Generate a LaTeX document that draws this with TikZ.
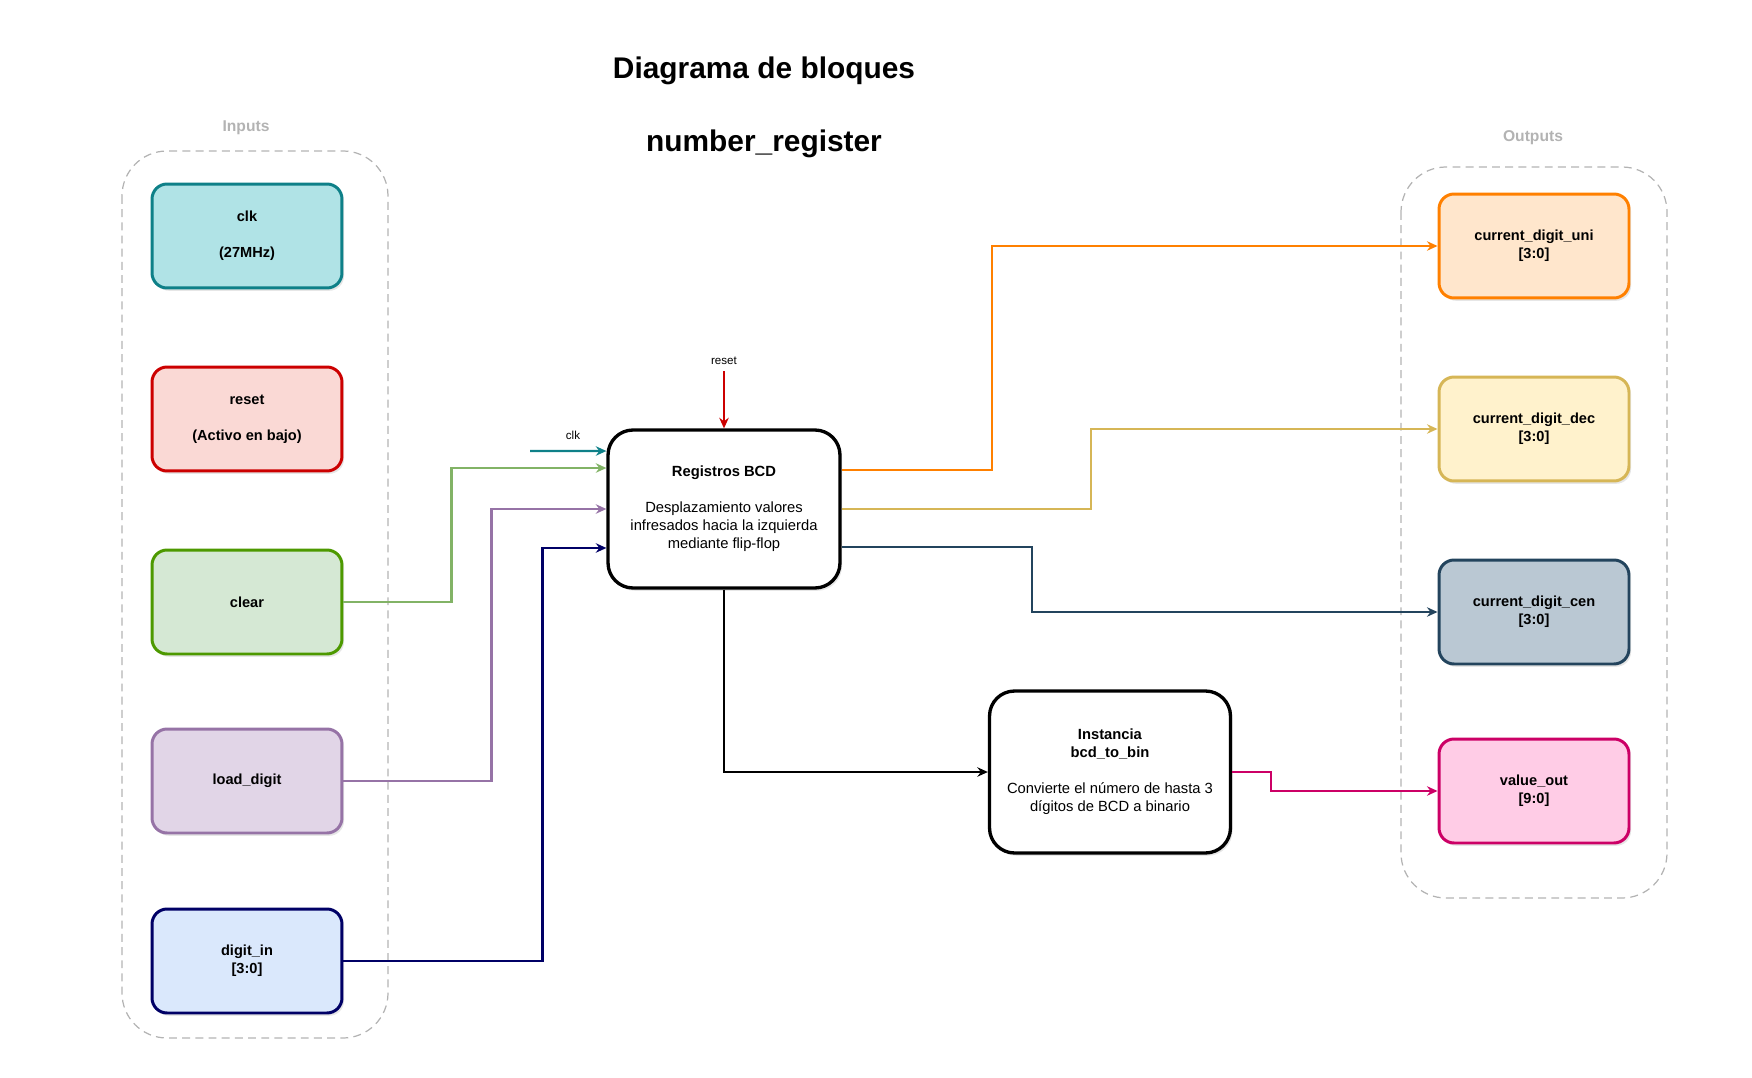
\documentclass[tikz,border=0pt]{standalone}
\usepackage{fontspec}
\setmainfont{Liberation Sans}
\usetikzlibrary{arrows.meta,positioning,shadows}

\definecolor{grpgray}{HTML}{B3B3B3}
\definecolor{clkfill}{HTML}{B0E3E6}
\definecolor{clkline}{HTML}{0E8088}
\definecolor{rstfill}{HTML}{FAD9D5}
\definecolor{rstline}{HTML}{CC0000}
\definecolor{clrfill}{HTML}{D5E8D4}
\definecolor{clrline}{HTML}{4D9900}
\definecolor{clrwire}{HTML}{82B366}
\definecolor{ldfill}{HTML}{E1D5E7}
\definecolor{ldline}{HTML}{9673A6}
\definecolor{dinfill}{HTML}{DAE8FC}
\definecolor{dinline}{HTML}{000066}
\definecolor{unifill}{HTML}{FFE6CC}
\definecolor{uniline}{HTML}{FF8000}
\definecolor{decfill}{HTML}{FFF2CC}
\definecolor{decline}{HTML}{D6B656}
\definecolor{cenfill}{HTML}{BAC8D3}
\definecolor{cenline}{HTML}{23445D}
\definecolor{valfill}{HTML}{FFCCE6}
\definecolor{valline}{HTML}{CC0066}

\begin{document}
\begin{tikzpicture}[x=0.02cm, y=-0.02cm, >={Stealth[length=6pt,width=5.4pt,inset=2pt]},
	blk/.style={draw, rounded corners=0.3cm, line width=1.7pt, minimum width=3.8cm, minimum height=2.08cm, align=center, font=\fontsize{8.3}{10.2}\selectfont\bfseries, drop shadow={shadow xshift=1.2pt, shadow yshift=-1.6pt, opacity=0.2}},
	big/.style={draw=black, fill=white, rounded corners=0.5cm, line width=1.9pt, align=center, font=\fontsize{8.4}{10.2}\selectfont, drop shadow={shadow xshift=1.2pt, shadow yshift=-1.6pt, opacity=0.2}},
	grp/.style={draw=grpgray, dash pattern=on 4.5pt off 3pt, line width=0.7pt, rounded corners=0.9cm},
	grplbl/.style={text=grpgray, font=\fontsize{8.9}{11}\selectfont\bfseries},
	ttl/.style={font=\fontsize{17}{20}\selectfont\bfseries},
	wire/.style={line width=1.2pt},
	sig/.style={font=\fontsize{6.6}{8}\selectfont}]
	\useasboundingbox (0,0) rectangle (1752,1078);
	\node[ttl] (ttl1) at (764,71) {Diagrama de bloques};
	\node[ttl] (ttl2) at (764,144) {number\_register};
	\draw[grp] (122,151) rectangle (388,1038);
	\draw[grp] (1401,167) rectangle (1667,898);
	\node[grplbl] (inlbl) at (246,128) {Inputs};
	\node[grplbl] (outlbl) at (1533,138) {Outputs};
	\node[blk, fill=clkfill, draw=clkline] (clk) at (247,236) {clk\\[10.2pt](27MHz)};
	\node[blk, fill=rstfill, draw=rstline] (rst) at (247,419) {reset\\[10.2pt](Activo en bajo)};
	\node[blk, fill=clrfill, draw=clrline] (clr) at (247,602) {clear};
	\node[blk, fill=ldfill, draw=ldline] (ld) at (247,781) {load\_digit};
	\node[blk, fill=dinfill, draw=dinline] (din) at (247,961) {digit\_in\\{}[3:0]};
	\node[blk, fill=unifill, draw=uniline] (uni) at (1534,246) {current\_digit\_uni\\{}[3:0]};
	\node[blk, fill=decfill, draw=decline] (dec) at (1534,429) {current\_digit\_dec\\{}[3:0]};
	\node[blk, fill=cenfill, draw=cenline] (cen) at (1534,612) {current\_digit\_cen\\{}[3:0]};
	\node[blk, fill=valfill, draw=valline] (vout) at (1534,791) {value\_out\\{}[9:0]};
	\node[big, minimum width=4.64cm, minimum height=3.16cm] (reg) at (724,509) {\textbf{Registros BCD}\\[10.2pt]Desplazamiento valores\\infresados hacia la izquierda\\mediante flip-flop};
	\node[big, minimum width=4.82cm, minimum height=3.24cm] (inst) at (1110,772) {\textbf{Instancia}\\\textbf{bcd\_to\_bin}\\[10.2pt]Convierte el número de hasta 3\\dígitos de BCD a binario};
	\coordinate (rstin) at (724,371);
	\coordinate (clkin) at (530,451);
	\node[sig, above] (rstsig) at (rstin) {reset};
	\node[sig] (clksig) at (573,435) {clk};
	\draw[wire, ->, rstline] (rstin) -- (reg.north);
	\draw[wire, ->, clkline] (clkin) -- ([yshift=1.16cm]reg.west);
	\draw[wire, ->, clrwire] (clr.east) -- ++(108,0) |- ([yshift=0.82cm]reg.west);
	\draw[wire, ->, ldline] (ld.east) -- ++(148,0) |- (reg.west);
	\draw[wire, ->, dinline] (din.east) -- ++(199,0) |- ([yshift=-0.78cm]reg.west);
	\draw[wire, ->, uniline] ([yshift=0.78cm]reg.east) -- ++(150,0) |- (uni.west);
	\draw[wire, ->, decline] (reg.east) -- ++(249,0) |- (dec.west);
	\draw[wire, ->, cenline] ([yshift=-0.76cm]reg.east) -- ++(190,0) |- (cen.west);
	\draw[wire, ->, black] (reg.south) |- (inst.west);
	\draw[wire, ->, valline] (inst.east) -- ++(39,0) |- (vout.west);
\end{tikzpicture}
\end{document}
